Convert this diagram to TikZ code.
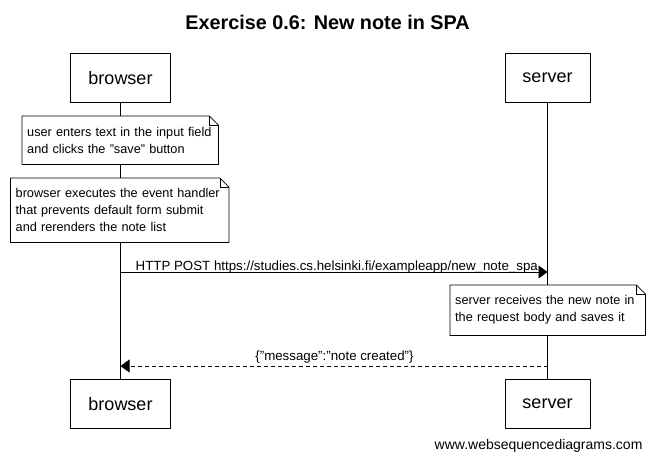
\documentclass[tikz,border=0pt]{standalone}
\usepackage{fontspec}
\setmainfont{Liberation Sans}
\usetikzlibrary{arrows.meta}
\newcommand{\dq}{\symbol{34}}
\tikzset{
  actor/.style={draw, line width=0.8pt, minimum width=99pt, minimum height=49pt, inner sep=0pt, font=\fontsize{18}{20}\selectfont, fill=white},
  notebox/.style={anchor=north west, fill=white, align=left, inner xsep=5pt, inner ysep=0pt, font=\fontsize{12.7}{17}\selectfont},
  lifeline/.style={line width=0.8pt},
  msg/.style={line width=0.8pt, -{Triangle[length=9pt,width=13pt]}},
  reply/.style={line width=0.8pt, dash pattern=on 4pt off 3pt, -{Triangle[length=9pt,width=13pt]}},
  lbl/.style={font=\fontsize{13.3}{15}\selectfont, inner sep=1pt},
}
\newcommand{\notefold}[1]{%
  \draw[line width=0.7pt] (#1.north west) -- ([xshift=-9pt]#1.north east) -- ([yshift=-9pt]#1.north east) -- (#1.south east) -- (#1.south west) -- cycle;
  \draw[line width=0.7pt] ([xshift=-9pt]#1.north east) -- ([xshift=-9pt,yshift=-9pt]#1.north east) -- ([yshift=-9pt]#1.north east);
}
\begin{document}
\begin{tikzpicture}[x=1pt,y=-1pt]
\useasboundingbox (0,0) rectangle (654,463);
\node[font=\bfseries\fontsize{19.8}{22}\selectfont] (title) at (327.5,22) {Exercise 0.6: New note in SPA};
\node[actor, minimum width=100pt] (bt) at (120.5,78) {browser};
\node[actor, minimum width=85pt] (st) at (547.5,78) {server};
\node[actor, minimum width=100pt] (bb) at (120.5,404) {browser};
\node[actor, minimum width=85pt] (sb) at (547.5,404) {server};
\draw[lifeline] (bt.south) -- (bb.north);
\draw[lifeline] (st.south) -- (sb.north);
% notes
\node[notebox, text width=186pt, minimum height=48pt] (n1) at (22,116) {user enters text in the input field\\and clicks the \dq save\dq{} button};
\notefold{n1}
\node[notebox, text width=208pt, minimum height=64pt] (n2) at (10.5,178) {browser executes the event handler\\that prevents default form submit\\and rerenders the note list};
\node[notebox, text width=185pt, minimum height=50pt] (n3) at (450,285) {server receives the new note in\\the request body and saves it};
\notefold{n2}
\notefold{n3}
% messages
\coordinate (m1) at (0,272);
\coordinate (m2) at (0,366);
\draw[msg] (bt.south |- m1) -- (st.south |- m1);
\node[lbl, anchor=south west] (l1) at ([xshift=14pt,yshift=-2pt]bt.south |- m1) {HTTP POST https://studies.cs.helsinki.fi/exampleapp/new\_note\_spa};
\draw[reply] (st.south |- m2) -- (bt.south |- m2);
\node[lbl, anchor=south] (l2) at (334.5,364) {\{\dq message\dq:\dq note created\dq\}};
\node[font=\fontsize{14}{16}\selectfont, anchor=east] (foot) at (646,446) {www.websequencediagrams.com};
\end{tikzpicture}
\end{document}
